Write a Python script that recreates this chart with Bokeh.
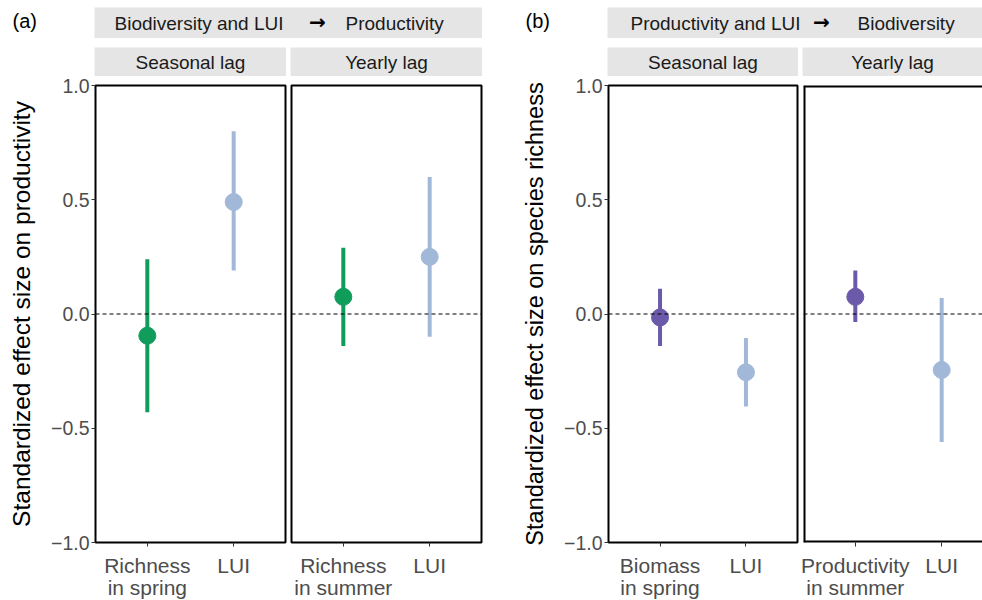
from bokeh.plotting import figure
from bokeh.layouts import row, column
from bokeh.models import Label, Span, Range1d, FixedTicker, Spacer, ColumnDataSource
from bokeh.embed import file_html
from bokeh.resources import INLINE

# ---------------- data ----------------
a_seasonal_terms = ["Richness\nin spring", "LUI"]
a_seasonal_est = [-0.095, 0.49]
a_seasonal_low = [-0.43, 0.19]
a_seasonal_high = [0.24, 0.80]

a_yearly_terms = ["Richness\nin summer", "LUI"]
a_yearly_est = [0.075, 0.25]
a_yearly_low = [-0.14, -0.10]
a_yearly_high = [0.29, 0.60]

b_seasonal_terms = ["Biomass\nin spring", "LUI"]
b_seasonal_est = [-0.015, -0.255]
b_seasonal_low = [-0.14, -0.405]
b_seasonal_high = [0.11, -0.105]

b_yearly_terms = ["Productivity\nin summer", "LUI"]
b_yearly_est = [0.075, -0.245]
b_yearly_low = [-0.035, -0.56]
b_yearly_high = [0.19, 0.07]

y_ticks = [-1.0, -0.5, 0.0, 0.5, 1.0]
y_tick_labels = ["\u22121.0", "\u22120.5", "0.0", "0.5", "1.0"]

facet_labels = ["Seasonal lag", "Yearly lag"]
a_header = ["Biodiversity and LUI", "Productivity"]
b_header = ["Productivity and LUI", "Biodiversity"]
a_ytitle = "Standardized effect size on productivity"
b_ytitle = "Standardized effect size on species richness"

GREEN = "#109D5B"
BLUE = "#A2B8D8"
PURPLE = "#6A5AA9"
a_colors = [GREEN, BLUE]
b_colors = [PURPLE, BLUE]

FONT = "Liberation Sans"
STRIP_BG = "#E5E5E5"
FRAME_H = 457


def facet(terms, est, low, high, colors, frame_w, x_end, left, right,
          ytitle=None, title_size="24px", full_box=True):
    xs = list(range(1, len(terms) + 1))
    p = figure(frame_width=frame_w, frame_height=FRAME_H,
               x_range=Range1d(0.4, x_end), y_range=Range1d(-1, 1),
               min_border_left=left, min_border_right=right,
               min_border_top=9, min_border_bottom=58,
               output_backend="svg", toolbar_location=None)
    p.xgrid.visible = False
    p.ygrid.visible = False
    p.background_fill_color = "white"
    p.border_fill_color = "white"
    if full_box:
        p.outline_line_color = "black"
        p.outline_line_width = 2
    else:
        p.outline_line_color = None
        for loc, dim in ((0.4, "height"), (1, "width"), (-1, "width")):
            p.add_layout(Span(location=loc, dimension=dim,
                              line_color="black", line_width=4))

    p.add_layout(Span(location=0, dimension="width", line_color="black",
                      line_width=1.2, line_dash="4 3"))

    src = ColumnDataSource(dict(x=xs, est=est, low=low, high=high, c=colors))
    p.segment(x0="x", y0="low", x1="x", y1="high", line_color="c",
              line_width=4, source=src)
    p.scatter(x="x", y="est", size=17, fill_color="c", line_color="c",
              source=src)

    xa = p.xaxis[0]
    xa.ticker = FixedTicker(ticks=xs)
    xa.major_label_overrides = {x: t for x, t in zip(xs, terms)}
    xa.axis_line_color = None
    xa.major_tick_line_color = "#333333"
    xa.major_tick_in = 0
    xa.major_tick_out = 4
    xa.minor_tick_line_color = None
    xa.major_label_text_font = FONT
    xa.major_label_text_font_size = "21px"
    xa.major_label_text_color = "#4D4D4D"
    xa.major_label_text_line_height = 0.97
    xa.major_label_standoff = 7

    ya = p.yaxis[0]
    if ytitle is None:
        ya.visible = False
    else:
        ya.ticker = FixedTicker(ticks=y_ticks)
        ya.major_label_overrides = {t: l for t, l in zip(y_ticks, y_tick_labels)}
        ya.axis_line_color = None
        ya.major_tick_line_color = "#333333"
        ya.major_tick_in = 0
        ya.major_tick_out = 4
        ya.minor_tick_line_color = None
        ya.major_label_text_font = FONT
        ya.major_label_text_font_size = "19.5px"
        ya.major_label_text_color = "#4D4D4D"
        ya.major_label_standoff = 2
        ya.axis_label = ytitle
        ya.axis_label_text_font = FONT
        ya.axis_label_text_font_size = title_size
        ya.axis_label_text_font_style = "normal"
        ya.axis_label_text_color = "black"
        ya.axis_label_standoff = 13
    return p


def box(w, h, fill):
    s = figure(width=w, height=h, x_range=Range1d(0, w), y_range=Range1d(0, h),
               x_axis_type=None, y_axis_type=None, min_border=0,
               toolbar_location=None, output_backend="svg",
               background_fill_color=fill, border_fill_color=fill,
               outline_line_color=None)
    s.xgrid.visible = False
    s.ygrid.visible = False
    return s


def txt(s, x, y, text, align="center", size="19px", color="#1A1A1A",
        style="normal", font=FONT):
    s.add_layout(Label(x=x, y=y, text=text, text_align=align,
                       text_baseline="middle", text_font=font,
                       text_font_size=size, text_color=color,
                       text_font_style=style))


def strip(w, h, text):
    s = box(w, h, STRIP_BG)
    txt(s, w / 2, h / 2, text)
    return s


def header(w, h, parts, left_end, arrow_c, right_start):
    s = box(w, h, STRIP_BG)
    txt(s, left_end, h / 2, parts[0], align="right")
    txt(s, arrow_c, h / 2 + 1, "\u2192", size="20px", color="black",
        style="bold", font="DejaVu Sans")
    txt(s, right_start, h / 2, parts[1], align="left")
    return s


# ---------- header row ----------
HH = 31
tag_a = box(94, HH, "white")
txt(tag_a, 12, 18, "(a)", align="left", size="20px", color="black")
tag_b = box(125, HH, "white")
txt(tag_b, 43, 18, "(b)", align="left", size="20px", color="black")
head_a = header(388, HH, a_header, 189, 223, 251)
head_b = header(375, HH, b_header, 193, 214, 250)
row1 = row(tag_a, head_a, tag_b, head_b)

# ---------- strip row ----------
SH = 29
row2 = row(Spacer(width=94, height=SH), strip(192, SH, facet_labels[0]),
           Spacer(width=4, height=SH), strip(192, SH, facet_labels[1]),
           Spacer(width=125, height=SH), strip(191, SH, facet_labels[0]),
           Spacer(width=4, height=SH), strip(180, SH, facet_labels[1]))

# ---------- panels ----------
pa1 = facet(a_seasonal_terms, a_seasonal_est, a_seasonal_low, a_seasonal_high,
            a_colors, 190, 2.6, 95, 3, ytitle=a_ytitle, title_size="24.5px")
pa2 = facet(a_yearly_terms, a_yearly_est, a_yearly_low, a_yearly_high,
            a_colors, 190, 2.6, 3, 3)
pb1 = facet(b_seasonal_terms, b_seasonal_est, b_seasonal_low, b_seasonal_high,
            b_colors, 189, 2.6, 124, 2, ytitle=b_ytitle, title_size="23.5px")
pb2 = facet(b_yearly_terms, b_yearly_est, b_yearly_low, b_yearly_high,
            b_colors, 179, 0.4 + 179 * 2.2 / 190, 4, 0, full_box=False)
row3 = row(pa1, pa2, pb1, pb2)

layout = column(Spacer(width=982, height=7), row1,
                Spacer(width=982, height=9), row2, row3)

open("out.html", "w").write(file_html(layout, INLINE))
